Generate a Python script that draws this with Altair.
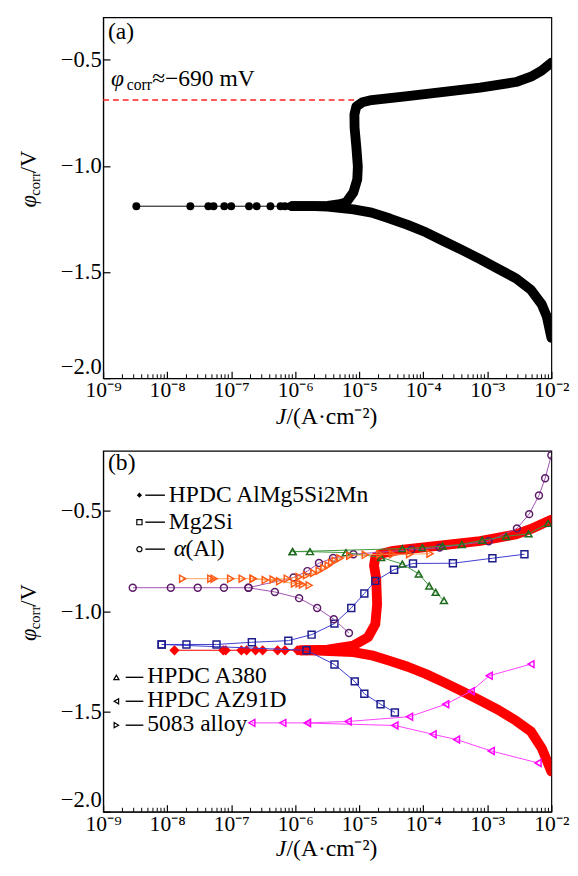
import altair as alt
import pandas as pd

FONT = "Liberation Serif"
W, H = 457, 368

# ---------------- axis data ----------------
X_DECADES = [1e-9, 1e-8, 1e-7, 1e-6, 1e-5, 1e-4, 1e-3, 1e-2]
X_TICK_LABELS = ["10⁻⁹", "10⁻⁸", "10⁻⁷", "10⁻⁶", "10⁻⁵", "10⁻⁴", "10⁻³", "10⁻²"]
X_MINOR = [k * d for d in X_DECADES[:-1] for k in (2, 3, 4, 5, 6, 7, 8, 9)]
Y_TICKS = [-2.0, -1.5, -1.0, -0.5]

# ---------------- panel (a) ----------------
A_SPARSE_J = [3.3e-9, 2.3e-8, 4.4e-8, 5.3e-8, 7.8e-8, 1.0e-7, 1.9e-7, 2.5e-7,
              4.1e-7, 5.9e-7, 6.9e-7, 8.3e-7, 1.0e-6]
A_SPARSE_V = [-1.19, -1.19, -1.19, -1.19, -1.19, -1.19, -1.19, -1.19,
              -1.19, -1.19, -1.19, -1.19, -1.19]
A_CATH_J = [9e-7, 2.0e-6, 3.2e-6, 8.1e-6, 1.56e-5, 3.0e-5, 5.7e-5, 1.1e-4, 2.1e-4,
            4.0e-4, 7.7e-4, 1.48e-3, 2.8e-3, 4.8e-3, 7.1e-3, 8.5e-3, 1.0e-2]
A_CATH_V = [-1.19, -1.19, -1.192, -1.205, -1.22, -1.248, -1.278, -1.313, -1.355,
            -1.396, -1.439, -1.485, -1.53, -1.584, -1.653, -1.71, -1.81]
A_ANOD_J = [9e-7, 2.0e-6, 3.2e-6, 5.0e-6, 6.3e-6, 8.1e-6, 9.3e-6, 9.5e-6, 9.0e-6,
            8.45e-6, 8.4e-6, 9.0e-6, 1.12e-5, 1.56e-5, 5.7e-5, 2.1e-4, 7.7e-4,
            2.8e-3, 4.8e-3, 7.0e-3, 1.0e-2]
A_ANOD_V = [-1.19, -1.19, -1.188, -1.18, -1.171, -1.125, -1.064, -1.003, -0.911,
            -0.82, -0.758, -0.72, -0.70, -0.69, -0.671, -0.651, -0.631,
            -0.605, -0.58, -0.552, -0.514]
A_ECORR_J = [1e-9]
A_ECORR_J2 = [8.3e-6]
A_ECORR_V = [-0.69]

# ---------------- panel (b) ----------------
B_SPARSE_J = [1.3e-8, 7.5e-8, 8.2e-8, 1.44e-7, 1.74e-7, 2.4e-7, 3.1e-7, 5.3e-7,
              6.9e-7, 1.08e-6, 1.5e-6]
B_SPARSE_V = [-1.195, -1.195, -1.195, -1.195, -1.195, -1.195, -1.195, -1.195,
              -1.195, -1.195, -1.195]
B_CATH_J = [1.2e-6, 2.2e-6, 8.1e-6, 1.56e-5, 3.0e-5, 5.7e-5, 1.1e-4, 2.1e-4, 4.0e-4,
            7.7e-4, 1.48e-3, 2.8e-3, 4.8e-3, 7.1e-3, 1.0e-2]
B_CATH_V = [-1.195, -1.196, -1.204, -1.22, -1.248, -1.277, -1.313, -1.355, -1.399,
            -1.445, -1.492, -1.546, -1.60, -1.684, -1.80]
B_ANOD_J = [1.2e-6, 3.2e-6, 8.1e-6, 1.37e-5, 1.78e-5, 1.9e-5, 1.84e-5, 1.7e-5,
            1.78e-5, 2.3e-5, 3.4e-5, 5.7e-5, 2.1e-4, 7.7e-4, 2.8e-3, 4.8e-3, 1.0e-2]
B_ANOD_V = [-1.195, -1.192, -1.171, -1.13, -1.065, -0.967, -0.837, -0.772,
            -0.731, -0.712, -0.699, -0.69, -0.671, -0.65, -0.617, -0.59, -0.544]

MG2SI_LOW_J = [8.2e-9, 1.5e-6, 4.1e-6, 8.5e-6, 1.2e-5, 2.15e-5, 3.6e-5]
MG2SI_LOW_V = [-1.166, -1.195, -1.266, -1.35, -1.412, -1.464, -1.505]
MG2SI_UP_J = [8.2e-9, 2.0e-8, 5.9e-8, 2.1e-7, 7.8e-7, 1.8e-6, 4.1e-6, 7.5e-6, 1.2e-5,
              1.78e-5, 3.5e-5, 6.9e-5, 2.9e-4, 1.2e-3, 3.8e-3]
MG2SI_UP_V = [-1.166, -1.166, -1.166, -1.155, -1.147, -1.117, -1.062, -0.984, -0.912,
              -0.849, -0.793, -0.762, -0.761, -0.736, -0.716]

AL_LOW_J = [2.9e-9, 1.14e-8, 3.0e-8, 7.7e-8, 1.86e-7, 4.8e-7, 1.15e-6, 2.2e-6, 4.0e-6, 6.9e-6]
AL_LOW_V = [-0.883, -0.883, -0.883, -0.883, -0.883, -0.904, -0.935, -0.984, -1.04, -1.109]
AL_UP_J = [1.86e-7, 9.4e-7, 1.55e-6, 2.35e-6, 3.9e-6, 8.1e-6, 6.5e-5, 1.8e-4, 1.05e-3,
           2.9e-3, 4.5e-3, 6.4e-3, 8.0e-3, 1.0e-2]
AL_UP_V = [-0.883, -0.832, -0.80, -0.76, -0.735, -0.716, -0.694, -0.683, -0.651,
           -0.587, -0.516, -0.423, -0.337, -0.222]

A380_LOW_J = [9.1e-7, 1.7e-6, 6.2e-6, 2.2e-5, 4.7e-5, 8.5e-5, 1.24e-4, 1.56e-4, 2.1e-4]
A380_LOW_V = [-0.703, -0.703, -0.708, -0.732, -0.765, -0.814, -0.874, -0.906, -0.947]
A380_UP_J = [9.1e-7, 4.7e-5, 9.7e-5, 2.0e-4, 4.0e-4, 8.3e-4, 1.96e-3, 4.4e-3, 8.9e-3]
A380_UP_V = [-0.703, -0.688, -0.683, -0.675, -0.667, -0.646, -0.627, -0.614, -0.562]

AZ_UP_J = [2.1e-7, 6.4e-7, 1.55e-6, 6.7e-6, 6.1e-5, 2.24e-4, 5.6e-4, 1.07e-3, 4.8e-3]
AZ_UP_V = [-1.557, -1.557, -1.557, -1.55, -1.526, -1.464, -1.399, -1.322, -1.264]
AZ_LOW_J = [1.55e-6, 3.6e-5, 1.42e-4, 3.3e-4, 1.15e-3, 6.2e-3]
AZ_LOW_V = [-1.558, -1.570, -1.614, -1.64, -1.697, -1.757]

AA_CATH_J = [1.74e-8, 4.8e-8, 5.4e-8, 9.8e-8, 1.48e-7, 2.2e-7, 3.4e-7, 5.7e-7,
             9.7e-7, 1.15e-6, 1.3e-6, 1.65e-6]
AA_CATH_V = [-0.838, -0.838, -0.838, -0.838, -0.838, -0.838, -0.845, -0.851,
             -0.862, -0.862, -0.867, -0.871]
AA_ANOD_J = [2.2e-7, 4.5e-7, 7.5e-7, 1.15e-6, 1.5e-6, 1.94e-6, 2.36e-6, 2.8e-6, 3.27e-6,
             3.7e-6, 4.2e-6, 5.0e-6, 7.1e-6, 1.24e-5, 2.1e-5, 3.3e-5, 6.1e-5, 1.27e-4]
AA_ANOD_V = [-0.838, -0.842, -0.838, -0.829, -0.821, -0.809, -0.798, -0.785, -0.772,
             -0.759, -0.748, -0.736, -0.723, -0.719, -0.716, -0.716, -0.716, -0.713]

SERIES = [
    # name, branches, marker shape, marker colour, line colour
    ("Mg2Si", [(MG2SI_LOW_J, MG2SI_LOW_V), (MG2SI_UP_J, MG2SI_UP_V)], "square", "#1c1c8c", "#3c3cd0"),
    ("α(Al)", [(AL_LOW_J, AL_LOW_V), (AL_UP_J, AL_UP_V)], "circle", "#5a1a66", "#a050b0"),
    ("HPDC A380", [(A380_LOW_J, A380_LOW_V), (A380_UP_J, A380_UP_V)], "triangle-up", "#1e6a1e", "#3c963c"),
    ("HPDC AZ91D", [(AZ_UP_J, AZ_UP_V), (AZ_LOW_J, AZ_LOW_V)], "triangle-left", "#ff00ff", "#ff40ff"),
    ("5083 alloy", [(AA_CATH_J, AA_CATH_V), (AA_ANOD_J, AA_ANOD_V)], "triangle-right", "#ff5a14", "#f5a45a"),
]

LEGEND_TOP = [("HPDC AlMg5Si2Mn", "diamond", True), ("Mg2Si", "square", False), ("α(Al)", "circle", False)]
LEGEND_BOT = [("HPDC A380", "triangle-up", False), ("HPDC AZ91D", "triangle-left", False),
              ("5083 alloy", "triangle-right", False)]


def branches_df(name, branches):
    rows = []
    for b, (js, vs) in enumerate(branches):
        for i, (j, v) in enumerate(zip(js, vs)):
            rows.append({"series": name, "branch": f"{name}-{b}", "i": i, "J": j, "V": v})
    return pd.DataFrame(rows)


x_axis = alt.Axis(values=X_DECADES, title=None,
                  labelExpr="[" + ",".join(f"'{s}'" for s in X_TICK_LABELS) + "][round(log(datum.value)/LN10)+9]",
                  tickSize=alt.ExprRef(expr="-7"), labelPadding=9, labelFlush=False,
                  labelFontSize=22)
y_axis = alt.Axis(values=Y_TICKS, title=None,
                  labelExpr="replace(format(datum.value, '.1f'), '-', '−')",
                  tickSize=alt.ExprRef(expr="-7"), labelPadding=9, labelFlush=True,
                  labelFontSize=23)
XSC = alt.Scale(type="log", domain=[1e-9, 1e-2], nice=False)


def X():
    return alt.X("J:Q", scale=XSC, axis=x_axis)


def Y(dom):
    return alt.Y("V:Q", scale=alt.Scale(domain=dom, nice=False, zero=False), axis=y_axis)


one = pd.DataFrame({"k": [0]})


def txt(s, x, y, size=22, italic=False, angle=0, align="left"):
    kw = dict(text=s, font=FONT, fontSize=size, color="black", align=align, baseline="alphabetic")
    if italic:
        kw["fontStyle"] = "italic"
    if angle:
        kw["angle"] = angle
    return alt.Chart(one).mark_text(**kw).encode(x=alt.value(x), y=alt.value(y))


def frame_layers(dom, title_y):
    minor = alt.Chart(pd.DataFrame({"J": X_MINOR})).mark_rule(color="black", strokeWidth=1).encode(
        x=alt.X("J:Q", scale=XSC, axis=x_axis), y=alt.value(H), y2=alt.value(H - 4))
    return [
        minor,
        # y-axis title  φcorr/V
        txt("φ", -68, 194, 23, italic=True, angle=270),
        txt("corr", -64, 182, 15, angle=270),
        txt("/V", -68, 159, 23, angle=270),
        # x-axis title  J/(A·cm⁻²)
        txt("J", 176, title_y, 24, italic=True),
        txt("/(A·cm⁻²)", 187, title_y, 24),
    ]


# ---------------- build panel (a) ----------------
ydom_a = [-2.0, -0.3]
a_curve = branches_df("a", [(A_CATH_J, A_CATH_V), (A_ANOD_J, A_ANOD_V)])
a_sparse = pd.DataFrame({"J": A_SPARSE_J, "V": A_SPARSE_V})
a_ecorr = pd.DataFrame({"J": A_ECORR_J, "J2": A_ECORR_J2, "V": A_ECORR_V})

pa_layers = [
    alt.Chart(a_ecorr).mark_rule(color="#ff2020", strokeDash=[6, 4], strokeWidth=1.6).encode(
        x=X(), x2="J2:Q", y=Y(ydom_a)),
    alt.Chart(a_curve).mark_line(color="black", strokeWidth=10, strokeCap="round",
                                 strokeJoin="round", clip=True).encode(
        x=X(), y=Y(ydom_a), detail="branch:N", order="i:Q"),
    alt.Chart(a_sparse).mark_line(color="black", strokeWidth=1).encode(x=X(), y=Y(ydom_a)),
    alt.Chart(a_sparse).mark_circle(color="black", size=65, opacity=1).encode(x=X(), y=Y(ydom_a)),
    txt("(a)", 5, 22, 24),
    txt("φ", 8, 70, 24, italic=True),
    txt("corr", 24, 74, 16),
    txt("≈−690 mV", 50, 70, 24),
] + frame_layers(ydom_a, H + 47)

panel_a = alt.layer(*pa_layers).properties(width=W, height=H)

# ---------------- build panel (b) ----------------
ydom_b = [-2.0, -0.2]
b_curve = branches_df("b", [(B_CATH_J, B_CATH_V), (B_ANOD_J, B_ANOD_V)])
b_sparse = pd.DataFrame({"J": B_SPARSE_J, "V": B_SPARSE_V})

pb_layers = [
    alt.Chart(b_curve).mark_line(color="#ff0000", strokeWidth=10, strokeCap="round",
                                 strokeJoin="round", clip=True).encode(
        x=X(), y=Y(ydom_b), detail="branch:N", order="i:Q"),
    alt.Chart(b_sparse).mark_line(color="#ff0000", strokeWidth=1.2).encode(x=X(), y=Y(ydom_b)),
    alt.Chart(b_sparse).mark_point(shape="diamond", filled=True, color="#ff0000", size=110,
                                   opacity=1).encode(x=X(), y=Y(ydom_b)),
]
for name, branches, shape, mcol, lcol in SERIES:
    df = branches_df(name, branches)
    pb_layers.append(alt.Chart(df).mark_line(color=lcol, strokeWidth=1, clip=True).encode(
        x=X(), y=Y(ydom_b), detail="branch:N", order="i:Q"))
    pb_layers.append(alt.Chart(df).mark_point(shape=shape, filled=False, color=mcol, size=50,
                                              strokeWidth=1.5, opacity=1, clip=True).encode(
        x=X(), y=Y(ydom_b)))

# legends
for k, (label, shape, filled) in enumerate(LEGEND_TOP):
    base = 52.3 + 27.5 * k
    yc = base - 7
    pb_layers.append(alt.Chart(one).mark_point(shape=shape, filled=filled, color="black", size=28,
                                               strokeWidth=1.2, opacity=1).encode(
        x=alt.value(37), y=alt.value(yc)))
    pb_layers.append(alt.Chart(one).mark_rule(color="black", strokeWidth=1.4).encode(
        x=alt.value(43), x2=alt.value(63), y=alt.value(yc)))
    if label == "α(Al)":
        pb_layers.append(txt("α", 72, base, 24, italic=True))
        pb_layers.append(txt("(Al)", 84, base, 24))
    else:
        pb_layers.append(txt(label, 67, base, 24))
for k, (label, shape, filled) in enumerate(LEGEND_BOT):
    base = 237 + 24.4 * k
    yc = base - 6
    pb_layers.append(alt.Chart(one).mark_point(shape=shape, filled=filled, color="black", size=28,
                                               strokeWidth=1.2, opacity=1).encode(
        x=alt.value(13.5), y=alt.value(yc)))
    pb_layers.append(alt.Chart(one).mark_rule(color="black", strokeWidth=1.4).encode(
        x=alt.value(23), x2=alt.value(41), y=alt.value(yc)))
    pb_layers.append(txt(label, 45, base, 24))

pb_layers.append(txt("(b)", 5, 20, 24))
pb_layers += frame_layers(ydom_b, H + 45)

panel_b = alt.layer(*pb_layers).properties(width=W, height=H)

chart = alt.vconcat(panel_a, panel_b, spacing=20).properties(
    padding={"left": 10, "top": 0, "right": 0, "bottom": 0}
).configure_view(stroke="black", strokeWidth=1.2).configure_axis(
    grid=False, domainColor="black", domainWidth=1.2, tickColor="black", tickWidth=1.2,
    labelColor="black", labelFont=FONT, labelFontSize=23
)

chart.save("out.html", embed_options={"renderer": "svg", "actions": False})
